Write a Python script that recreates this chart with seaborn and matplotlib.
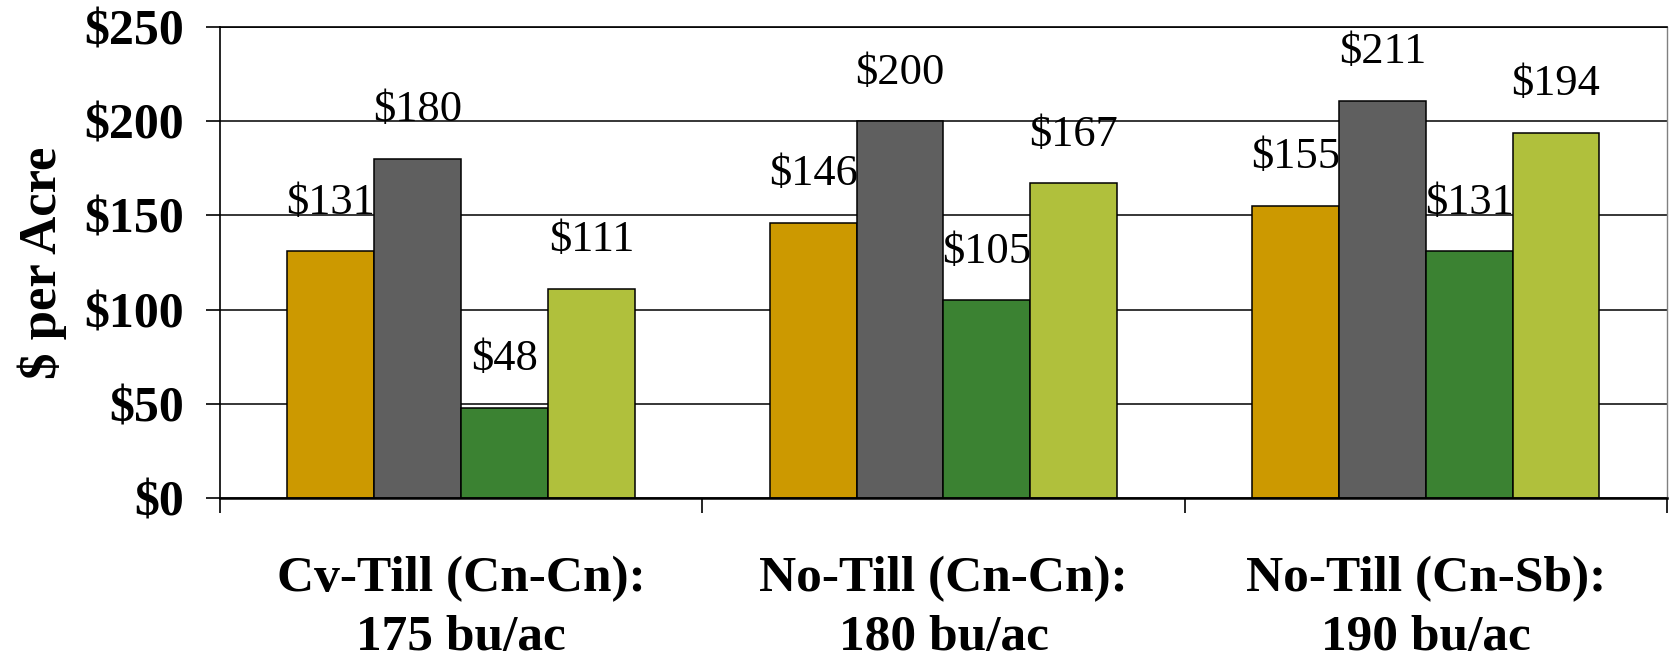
import matplotlib
matplotlib.use("Agg")
import matplotlib.pyplot as plt
import seaborn as sns
import pandas as pd

# Net returns per acre for four practices under three tillage systems
systems = ["Cv-Till (Cn-Cn):\n175 bu/ac", "No-Till (Cn-Cn):\n180 bu/ac", "No-Till (Cn-Sb):\n190 bu/ac"]
practices = ["Practice A", "Practice B", "Practice C", "Practice D"]
practice_a = [131, 146, 155]
practice_b = [180, 200, 211]
practice_c = [48, 105, 131]
practice_d = [111, 167, 194]
y_ticks = [0, 50, 100, 150, 200, 250]

colors = ["#CC9900", "#5F5F5F", "#3B8232", "#B0C03C"]

rows = []
for name, vals in zip(practices, [practice_a, practice_b, practice_c, practice_d]):
    for s, v in zip(systems, vals):
        rows.append({"system": s, "practice": name, "value": v})
df = pd.DataFrame(rows)

sns.set_theme(style="white")
plt.rcParams["font.family"] = ["Liberation Serif", "DejaVu Serif"]
plt.rcParams["text.color"] = "black"
plt.rcParams["axes.labelcolor"] = "black"
plt.rcParams["xtick.color"] = "black"
plt.rcParams["ytick.color"] = "black"

fig = plt.figure(figsize=(16.7, 6.6), dpi=100)
ax = fig.add_axes([0.1317, 0.2455, 0.8665, 0.7135])

sns.barplot(data=df, x="system", y="value", hue="practice", order=systems,
            hue_order=practices, palette=colors, width=0.72, gap=0,
            edgecolor="black", linewidth=1.1, saturation=1, ax=ax, legend=False)

# Value labels above every bar
for container in ax.containers:
    for bar in container:
        h = bar.get_height()
        ax.annotate(f"${h:.0f}", xy=(bar.get_x() + bar.get_width() / 2, h),
                    xytext=(0, 35), textcoords="offset points",
                    ha="center", va="center", fontsize=32, color="black")

ax.set_ylim(0, 250)
ax.set_xlim(-0.5, 2.5)
ax.set_yticks(y_ticks)
ax.set_yticklabels([f"${t}" for t in y_ticks], fontsize=36, fontweight="bold")
ax.set_xticks(range(len(systems)))
ax.set_xticklabels(systems, fontsize=37, fontweight="bold", linespacing=1.35)
ax.set_xticks([-0.5, 0.5, 1.5, 2.5], minor=True)
ax.tick_params(axis="x", which="major", length=0, pad=42)
ax.tick_params(axis="x", which="minor", direction="out", length=11, width=1.2,
               color="black", bottom=True)
ax.tick_params(axis="y", direction="out", length=10, width=1.2, color="black",
               left=True, pad=16)

ax.set_xlabel("")
ax.set_ylabel("$ per Acre", fontsize=38, fontweight="bold", labelpad=12)

ax.set_axisbelow(True)
ax.yaxis.grid(True, color="black", linewidth=1.1)
ax.xaxis.grid(False)

for side in ["left", "top"]:
    ax.spines[side].set_color("black")
    ax.spines[side].set_linewidth(1.2)
ax.spines["bottom"].set_color("black")
ax.spines["bottom"].set_linewidth(1.8)
ax.spines["right"].set_color("#808080")
ax.spines["right"].set_linewidth(1.0)

fig.savefig("out.png", dpi=100)
